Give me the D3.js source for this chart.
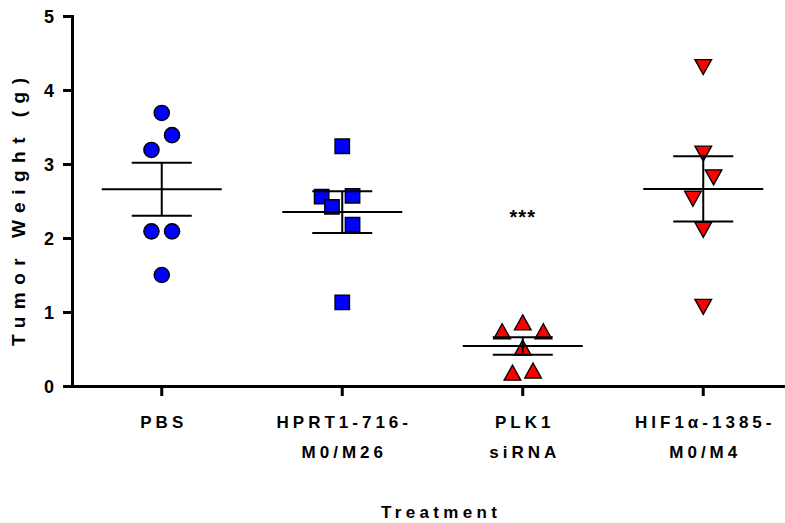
<!DOCTYPE html>
<html>
<head>
<meta charset="utf-8">
<script src="https://cdn.jsdelivr.net/npm/d3@7"></script>
<style>
  html, body { margin: 0; padding: 0; background: #fff; }
  svg { display: block; font-family: "Liberation Sans", Arial, sans-serif; }
</style>
</head>
<body>
<svg id="chart" width="785" height="523"></svg>
<script>
// ---- data ----
const categories = ["PBS", "HPRT1-716-M0/M26", "PLK1 siRNA", "HIF1\u03b1-1385-M0/M4"];
const categoryLines = [["PBS"], ["HPRT1-716-", "M0/M26"], ["PLK1", "siRNA"], ["HIF1\u03b1-1385-", "M0/M4"]];
const pbsValues  = [3.69, 3.39, 3.19, 2.09, 2.09, 1.50];
const hprtValues = [3.24, 2.56, 2.42, 2.57, 2.18, 1.13];
const plkValues  = [0.86, 0.74, 0.74, 0.52, 0.18, 0.21];
const hifValues  = [4.31, 3.14, 2.82, 2.53, 2.11, 1.07];
// scatter column (swarm slot) of each point within its group
const pbsSlots  = [0, 1, -1, -1, 1, 0];
const hprtSlots = [0, -2, -1, 1, 1, 0];
const plkSlots  = [0, -2, 2, 0, -1, 1];
const hifSlots  = [0, 0, 1, -1, 0, 0];
const yTicks = [0, 1, 2, 3, 4, 5];
const significance = [{ category: "PLK1 siRNA", label: "***", value: 2.35 }];
const yTitle = "Tumor Weight (g)";
const xTitle = "Treatment";

// ---- setup ----
const svg = d3.select("#chart");
const font = '"Liberation Sans", Arial, sans-serif';

const y = d3.scaleLinear().domain([0, 5]).range([386, 16]);
const x = d3.scaleBand().domain(categories).range([71.5, 793.5]).padding(0);
const cx = c => x(c) + x.bandwidth() / 2;
const slotWidth = 10.3;

// custom bbox-centred triangles
const triUp = {
  draw(ctx, size) {
    const w = Math.sqrt(size * 2 / 0.9), h = w * 0.9;
    ctx.moveTo(0, -h / 2); ctx.lineTo(w / 2, h / 2); ctx.lineTo(-w / 2, h / 2); ctx.closePath();
  }
};
const triDown = {
  draw(ctx, size) {
    const w = Math.sqrt(size * 2 / 0.9), h = w * 0.9;
    ctx.moveTo(0, h / 2); ctx.lineTo(w / 2, -h / 2); ctx.lineTo(-w / 2, -h / 2); ctx.closePath();
  }
};

const groups = [
  { cat: categories[0], values: pbsValues,  slots: pbsSlots,  type: d3.symbolCircle, size: Math.PI * 7.6 * 7.6, fill: "#0000FF" },
  { cat: categories[1], values: hprtValues, slots: hprtSlots, type: d3.symbolSquare, size: 14.4 * 14.4,        fill: "#0000FF" },
  { cat: categories[2], values: plkValues,  slots: plkSlots,  type: triUp,           size: 16.6 * 16.6 * 0.45, fill: "#FF0000" },
  { cat: categories[3], values: hifValues,  slots: hifSlots,  type: triDown,         size: 16.6 * 16.6 * 0.45, fill: "#FF0000" }
];

// ---- markers ----
groups.forEach(g => {
  const sym = d3.symbol().type(g.type).size(g.size);
  svg.append("g").selectAll("path")
    .data(g.values.map((v, i) => ({ v, s: g.slots[i] })))
    .join("path")
    .attr("d", sym)
    .attr("transform", d => `translate(${cx(g.cat) + d.s * slotWidth},${y(d.v)})`)
    .attr("fill", g.fill)
    .attr("stroke", "#000")
    .attr("stroke-width", 1.4);
});

// ---- mean ± SEM ----
const stats = groups.map(g => {
  const m = d3.mean(g.values);
  const sem = d3.deviation(g.values) / Math.sqrt(g.values.length);
  return { cat: g.cat, mean: m, lo: m - sem, hi: m + sem };
});
const eb = svg.append("g").attr("stroke", "#000").attr("stroke-width", 2).attr("fill", "none");
stats.forEach(s => {
  const c = cx(s.cat);
  eb.append("line").attr("x1", c - 60).attr("x2", c + 60).attr("y1", y(s.mean)).attr("y2", y(s.mean));
  eb.append("line").attr("x1", c).attr("x2", c).attr("y1", y(s.lo)).attr("y2", y(s.hi));
  eb.append("line").attr("x1", c - 30).attr("x2", c + 30).attr("y1", y(s.hi)).attr("y2", y(s.hi));
  eb.append("line").attr("x1", c - 30).attr("x2", c + 30).attr("y1", y(s.lo)).attr("y2", y(s.lo));
});

// ---- axes ----
const yAxis = svg.append("g")
  .attr("transform", "translate(72,0)")
  .call(d3.axisLeft(y).tickValues(yTicks).tickFormat(d3.format("d")).tickSize(9).tickSizeOuter(0).tickPadding(9));
yAxis.select(".domain").attr("stroke-width", 3).attr("stroke-linecap", "square");
yAxis.selectAll(".tick line").attr("stroke-width", 3);
yAxis.selectAll(".tick text")
  .attr("font-family", font).attr("font-size", 18).attr("font-weight", "bold").attr("fill", "#000")
  .attr("dy", "0.36em");

const xAxis = svg.append("g")
  .attr("transform", "translate(0,386)")
  .call(d3.axisBottom(x).tickSize(10).tickSizeOuter(0));
xAxis.select(".domain").attr("stroke-width", 3);
xAxis.selectAll(".tick line").attr("stroke-width", 3);
xAxis.selectAll(".tick text").each(function (d) {
  const t = d3.select(this);
  const lines = categoryLines[categories.indexOf(d)];
  t.text(null).attr("y", 0).attr("dy", null)
    .attr("font-family", font).attr("font-size", 17).attr("font-weight", "bold")
    .attr("fill", "#000").attr("letter-spacing", "4px");
  lines.forEach((ln, i) => {
    t.append("tspan").attr("x", 2).attr("y", 42 + i * 30).text(ln);
  });
});

// ---- titles ----
svg.append("text")
  .attr("transform", "translate(25,212) rotate(-90)")
  .attr("text-anchor", "middle")
  .attr("font-family", font).attr("font-size", 19).attr("font-weight", "bold")
  .attr("textLength", 268).attr("lengthAdjust", "spacing")
  .text(yTitle);

svg.append("text")
  .attr("x", 381).attr("y", 518)
  .attr("font-family", font).attr("font-size", 17).attr("font-weight", "bold")
  .attr("textLength", 116).attr("lengthAdjust", "spacing")
  .text(xTitle);

// ---- significance ----
svg.append("g").selectAll("text")
  .data(significance)
  .join("text")
  .attr("x", d => cx(d.category))
  .attr("y", d => y(d.value) + 12)
  .attr("text-anchor", "middle")
  .attr("font-family", font).attr("font-size", 20).attr("font-weight", "bold")
  .attr("letter-spacing", "1px")
  .text(d => d.label);
</script>
</body>
</html>
